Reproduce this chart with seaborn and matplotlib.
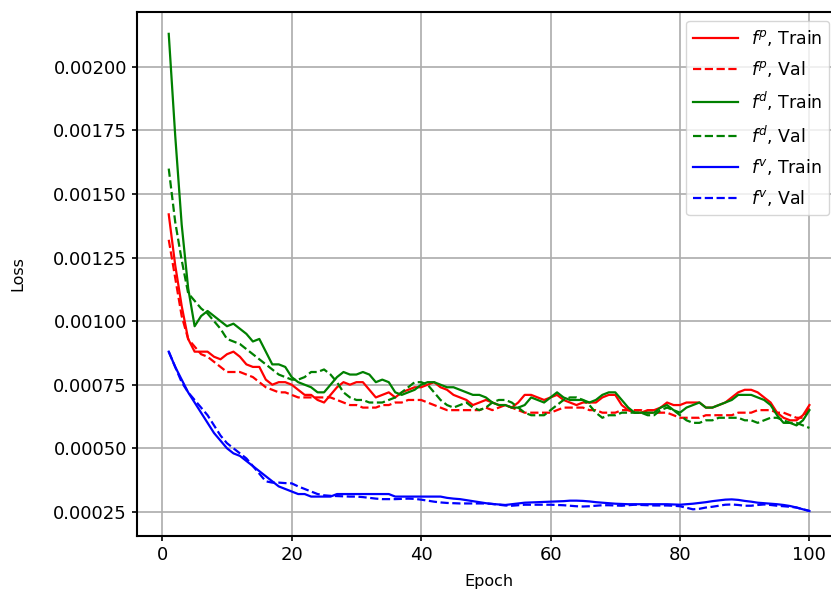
import matplotlib
matplotlib.use("Agg")
import matplotlib.pyplot as plt
from matplotlib.ticker import MultipleLocator, FormatStrFormatter
import numpy as np
import pandas as pd
import seaborn as sns

epochs = list(range(1, 101))

fp_train = [
    0.00142, 0.00122, 0.00106, 0.00093, 0.00088, 0.00088, 0.00088, 0.00086, 0.00085, 0.00087,
    0.00088, 0.00086, 0.00083, 0.00082, 0.00082, 0.00077, 0.00075, 0.00076, 0.00076, 0.00075,
    0.00073, 0.00071, 0.00071, 0.00069, 0.00068, 0.00071, 0.00074, 0.00076, 0.00075, 0.00076,
    0.00076, 0.00073, 0.00070, 0.00071, 0.00072, 0.00070, 0.00072, 0.00073, 0.00074, 0.00074,
    0.00075, 0.00076, 0.00074, 0.00073, 0.00071, 0.00070, 0.00069, 0.00067, 0.00068, 0.00069,
    0.00068, 0.00067, 0.00067, 0.00066, 0.00068, 0.00071, 0.00071, 0.00070, 0.00069, 0.00070,
    0.00071, 0.00069, 0.00068, 0.00067, 0.00068, 0.00068, 0.00068, 0.00070, 0.00071, 0.00071,
    0.00067, 0.00065, 0.00064, 0.00064, 0.00065, 0.00065, 0.00066, 0.00068, 0.00067, 0.00067,
    0.00068, 0.00068, 0.00068, 0.00066, 0.00066, 0.00067, 0.00068, 0.00070, 0.00072, 0.00073,
    0.00073, 0.00072, 0.00070, 0.00068, 0.00064, 0.00062, 0.00061, 0.00061, 0.00063, 0.00067,
]
fp_val = [
    0.00132, 0.00117, 0.00102, 0.00093, 0.00090, 0.00087, 0.00086, 0.00084, 0.00082, 0.00080,
    0.00080, 0.00080, 0.00079, 0.00078, 0.00076, 0.00074, 0.00073, 0.00072, 0.00072, 0.00071,
    0.00070, 0.00070, 0.00070, 0.00070, 0.00070, 0.00070, 0.00069, 0.00068, 0.00067, 0.00067,
    0.00066, 0.00066, 0.00066, 0.00067, 0.00067, 0.00068, 0.00068, 0.00069, 0.00069, 0.00069,
    0.00068, 0.00067, 0.00066, 0.00065, 0.00065, 0.00065, 0.00065, 0.00065, 0.00065, 0.00066,
    0.00065, 0.00066, 0.00067, 0.00066, 0.00065, 0.00064, 0.00064, 0.00064, 0.00064, 0.00064,
    0.00065, 0.00066, 0.00066, 0.00066, 0.00066, 0.00065, 0.00065, 0.00064, 0.00064, 0.00064,
    0.00065, 0.00065, 0.00065, 0.00065, 0.00064, 0.00064, 0.00064, 0.00064, 0.00063, 0.00062,
    0.00062, 0.00062, 0.00062, 0.00063, 0.00063, 0.00063, 0.00063, 0.00063, 0.00064, 0.00064,
    0.00064, 0.00065, 0.00065, 0.00065, 0.00064, 0.00064, 0.00063, 0.00062, 0.00062, 0.00066,
]
fd_train = [
    0.00213, 0.00173, 0.00138, 0.00113, 0.00098, 0.00102, 0.00104, 0.00102, 0.00100, 0.00098,
    0.00099, 0.00097, 0.00095, 0.00092, 0.00093, 0.00088, 0.00083, 0.00083, 0.00082, 0.00078,
    0.00076, 0.00075, 0.00074, 0.00072, 0.00072, 0.00075, 0.00078, 0.00080, 0.00079, 0.00079,
    0.00080, 0.00079, 0.00076, 0.00077, 0.00076, 0.00072, 0.00071, 0.00072, 0.00073, 0.00075,
    0.00076, 0.00076, 0.00075, 0.00074, 0.00074, 0.00073, 0.00072, 0.00071, 0.00071, 0.00070,
    0.00068, 0.00067, 0.00067, 0.00066, 0.00066, 0.00067, 0.00070, 0.00069, 0.00068, 0.00070,
    0.00072, 0.00070, 0.00069, 0.00069, 0.00069, 0.00068, 0.00069, 0.00071, 0.00072, 0.00072,
    0.00069, 0.00066, 0.00064, 0.00064, 0.00064, 0.00064, 0.00066, 0.00067, 0.00065, 0.00064,
    0.00066, 0.00067, 0.00068, 0.00066, 0.00066, 0.00067, 0.00068, 0.00069, 0.00071, 0.00071,
    0.00071, 0.00070, 0.00069, 0.00067, 0.00063, 0.00060, 0.00060, 0.00059, 0.00061, 0.00065,
]
fd_val = [
    0.00160, 0.00139, 0.00124, 0.00111, 0.00108, 0.00105, 0.00103, 0.00100, 0.00097, 0.00093,
    0.00092, 0.00091, 0.00089, 0.00087, 0.00085, 0.00083, 0.00081, 0.00079, 0.00078, 0.00077,
    0.00077, 0.00078, 0.00080, 0.00080, 0.00081, 0.00079, 0.00076, 0.00072, 0.00070, 0.00069,
    0.00069, 0.00068, 0.00068, 0.00068, 0.00069, 0.00070, 0.00072, 0.00074, 0.00076, 0.00076,
    0.00075, 0.00072, 0.00069, 0.00067, 0.00066, 0.00067, 0.00068, 0.00066, 0.00065, 0.00066,
    0.00068, 0.00069, 0.00069, 0.00068, 0.00066, 0.00064, 0.00063, 0.00063, 0.00063, 0.00065,
    0.00067, 0.00069, 0.00070, 0.00070, 0.00069, 0.00067, 0.00064, 0.00062, 0.00063, 0.00063,
    0.00064, 0.00064, 0.00064, 0.00064, 0.00063, 0.00063, 0.00065, 0.00066, 0.00065, 0.00063,
    0.00061, 0.00060, 0.00060, 0.00061, 0.00061, 0.00062, 0.00062, 0.00062, 0.00062, 0.00061,
    0.00061, 0.00060, 0.00061, 0.00062, 0.00062, 0.00061, 0.00060, 0.00060, 0.00059, 0.00058,
]
fv_train = [
    0.00088, 0.00082, 0.00077, 0.00072, 0.00068, 0.00064, 0.00060, 0.00056, 0.00053, 0.00050,
    0.00048, 0.00047, 0.00045, 0.00043, 0.00041, 0.00039, 0.00037, 0.00035, 0.00034, 0.00033,
    0.00032, 0.00032, 0.00031, 0.00031, 0.00031, 0.00031, 0.00032, 0.00032, 0.00032, 0.00032,
    0.00032, 0.00032, 0.00032, 0.00032, 0.00032, 0.00031, 0.00031, 0.00031, 0.00031, 0.00031,
    0.00031, 0.00031, 0.00031, 0.000305, 0.000302, 0.000300, 0.000296, 0.000292, 0.000288, 0.000284,
    0.000281, 0.000279, 0.000277, 0.000280, 0.000283, 0.000286, 0.000287, 0.000288, 0.000289, 0.000290,
    0.000291, 0.000292, 0.000294, 0.000294, 0.000293, 0.000291, 0.000288, 0.000286, 0.000284, 0.000282,
    0.000281, 0.000280, 0.000280, 0.000280, 0.000280, 0.000280, 0.000280, 0.000280, 0.000279, 0.000278,
    0.000280, 0.000282, 0.000285, 0.000288, 0.000292, 0.000295, 0.000298, 0.000299, 0.000297, 0.000293,
    0.000290, 0.000286, 0.000284, 0.000282, 0.000280, 0.000277, 0.000273, 0.000267, 0.000260, 0.000253,
]
fv_val = [
    0.00088, 0.00082, 0.00076, 0.00072, 0.00069, 0.00066, 0.00063, 0.00059, 0.00055, 0.00052,
    0.00050, 0.00048, 0.00046, 0.00043, 0.00040, 0.00037, 0.000365, 0.000365, 0.000363, 0.000362,
    0.000350, 0.000340, 0.000330, 0.000320, 0.000315, 0.000313, 0.000312, 0.000311, 0.000310, 0.000310,
    0.000308, 0.000305, 0.000302, 0.000300, 0.000300, 0.000300, 0.000301, 0.000302, 0.000301, 0.000298,
    0.000294, 0.000290, 0.000287, 0.000285, 0.000284, 0.000283, 0.000283, 0.000283, 0.000283, 0.000283,
    0.000281, 0.000278, 0.000275, 0.000274, 0.000276, 0.000278, 0.000278, 0.000278, 0.000278, 0.000278,
    0.000277, 0.000276, 0.000274, 0.000272, 0.000271, 0.000272, 0.000274, 0.000276, 0.000276, 0.000275,
    0.000274, 0.000276, 0.000278, 0.000277, 0.000276, 0.000275, 0.000275, 0.000275, 0.000274, 0.000272,
    0.000266, 0.000260, 0.000262, 0.000267, 0.000270, 0.000274, 0.000278, 0.000279, 0.000277, 0.000274,
    0.000274, 0.000277, 0.000279, 0.000277, 0.000274, 0.000272, 0.000270, 0.000267, 0.000260, 0.000254,
]

series = [
    (r"$f^p$, Train", fp_train, "red", "-"),
    (r"$f^p$, Val", fp_val, "red", "--"),
    (r"$f^d$, Train", fd_train, "green", "-"),
    (r"$f^d$, Val", fd_val, "green", "--"),
    (r"$f^v$, Train", fv_train, "blue", "-"),
    (r"$f^v$, Val", fv_val, "blue", "--"),
]

plt.rcParams["font.family"] = ["DejaVu Sans"]
plt.rcParams["axes.linewidth"] = 1.5

fig = plt.figure(figsize=(8.31, 5.92), dpi=100)
ax = fig.add_axes([0.1645, 0.0946, 0.8481, 0.8856])

for label, vals, color, ls in series:
    df = pd.DataFrame({"Epoch": epochs, "Loss": vals})
    sns.lineplot(data=df, x="Epoch", y="Loss", color=color, linestyle=ls,
                 linewidth=1.6, label=label, ax=ax)

ax.set_xlim(-3.95, 104.95)
ax.set_ylim(0.000155, 0.002217)
ax.xaxis.set_major_locator(MultipleLocator(20))
ax.yaxis.set_major_locator(MultipleLocator(0.00025))
ax.yaxis.set_major_formatter(FormatStrFormatter("%.5f"))
ax.grid(True, color="#acacac", linewidth=1.2)
ax.set_axisbelow(True)
ax.tick_params(axis="both", direction="out", length=3.5, width=1.2, labelsize=13)

ax.set_xlabel("Epoch", fontsize=11.5)
ax.set_ylabel("Loss", fontsize=11.5)
ax.xaxis.set_label_coords(0.5, -0.072)
ax.yaxis.set_label_coords(-0.158, 0.5)

leg = ax.legend(loc="upper right", bbox_to_anchor=(829 / 831, 1 - 21 / 592),
                bbox_transform=fig.transFigure, borderaxespad=0, fontsize=12.5,
                framealpha=0.8, handlelength=2.6, labelspacing=0.62,
                handletextpad=0.7, borderpad=0.4)

fig.savefig("out.png", dpi=100)
